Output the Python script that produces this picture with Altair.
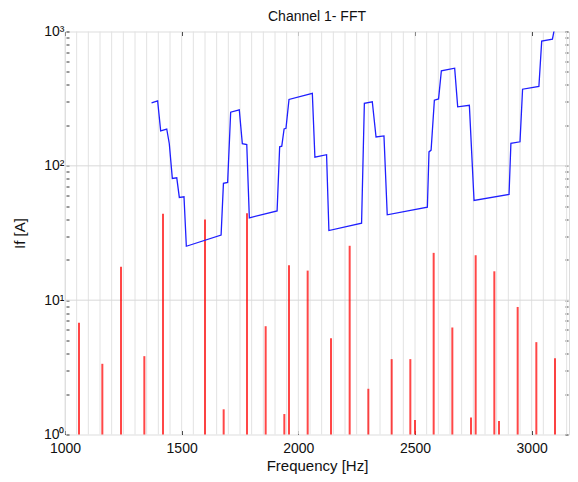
import altair as alt
import pandas as pd

# Red FFT harmonic stems (frequency in Hz, amplitude in A)
stem_freq = [1060, 1160, 1240, 1340, 1420, 1600, 1680, 1780, 1860, 1940, 1960, 2040,
             2140, 2220, 2300, 2400, 2480, 2500, 2580, 2660, 2740, 2760, 2840, 2860,
             2940, 3020, 3100]
stem_amp = [6.8, 3.36, 17.7, 3.83, 43.9, 39.9, 1.54, 44.4, 6.4, 1.42, 18.2, 16.6,
            5.2, 25.4, 2.19, 3.64, 3.64, 1.28, 22.5, 6.26, 1.34, 21.6, 16.4, 1.26,
            8.9, 4.87, 3.7]

# Blue limit curve
lim_freq = [1371, 1397, 1410, 1436, 1447, 1460, 1479, 1490, 1510, 1520, 1669, 1679,
            1697, 1710, 1747, 1760, 1779, 1790, 1909, 1920, 1929, 1939, 1947, 1960,
            2060, 2071, 2121, 2131, 2271, 2283, 2317, 2333, 2367, 2381, 2553, 2560,
            2569, 2583, 2601, 2613, 2650, 2670, 2683, 2733, 2753, 2903, 2911, 2950,
            2961, 3031, 3043, 3089, 3100]
lim_amp = [294, 305, 182, 188, 146, 80.6, 81.4, 58.2, 58.8, 25.2, 30.5, 74,
           75.2, 251, 261, 146, 144, 41, 46.2, 138.6, 140, 188, 190, 312,
           346, 116, 121, 33, 37.4, 292, 300, 164, 167, 43.2, 49.2, 127,
           131, 308, 315, 510, 525, 533, 275, 282, 55.3, 61.2, 147, 151,
           372, 390, 848, 878, 1100]

# Axis tick / grid values
x_ticks = [1000, 1500, 2000, 2500, 3000]
x_grid = list(range(1000, 3151, 50))
y_grid = [10, 100]
y_ticks = [1, 2, 3, 4, 5, 6, 7, 8, 9, 10, 20, 30, 40, 50, 60, 70, 80, 90,
           100, 200, 300, 400, 500, 600, 700, 800, 900, 1000]

FONT = "Liberation Sans"
xscale = alt.Scale(domain=[1000, 3160], nice=False, zero=False)
yscale = alt.Scale(type="log", domain=[1, 1000], nice=False)

label_expr = ("datum.value == 1 ? '10⁰' : datum.value == 10 ? '10¹' : "
              "datum.value == 100 ? '10²' : datum.value == 1000 ? '10³' : ''")

stems_df = pd.DataFrame({"f": stem_freq, "a": stem_amp})
lim_df = pd.DataFrame({"f": lim_freq, "a": lim_amp})
xg_df = pd.DataFrame({"f": x_grid})
yg_df = pd.DataFrame({"a": y_grid})

grid_v = alt.Chart(xg_df).mark_rule(color="#e2e2e2", strokeWidth=1).encode(
    x=alt.X("f:Q", scale=xscale, axis=None)
)
grid_h = alt.Chart(yg_df).mark_rule(color="#d8d8d8", strokeWidth=1).encode(
    y=alt.Y("a:Q", scale=yscale, axis=None)
)

stems = alt.Chart(stems_df).mark_rule(color="#ff0000", strokeWidth=2, opacity=0.72).encode(
    x=alt.X("f:Q", scale=xscale,
            axis=alt.Axis(orient="bottom", values=x_ticks, format="d",
                          title="Frequency [Hz]",
                          grid=False, domain=False, offset=-4, tickSize=4,
                          tickColor="#333333", labelFontSize=14, labelFont=FONT,
                          labelColor="#111111", labelPadding=7, labelFlush=False,
                          titleFont=FONT, titleFontSize=15, titleFontWeight="normal",
                          titleColor="#111111", titlePadding=3)),
    y=alt.Y("a:Q", scale=yscale,
            axis=alt.Axis(orient="left", values=y_ticks, labelExpr=label_expr,
                          title="If [A]", grid=False, domain=False, offset=-4,
                          tickSize=3, tickColor="#333333", labelFontSize=14,
                          labelFont=FONT, labelColor="#111111", labelPadding=2,
                          labelFlush=False, titleFont=FONT, titleFontSize=15,
                          titleFontWeight="normal", titleColor="#111111",
                          titlePadding=16)),
    y2=alt.datum(1),
)

line = alt.Chart(lim_df).mark_line(color="#1f1fff", strokeWidth=1.3, clip=True).encode(
    x=alt.X("f:Q", scale=xscale,
            axis=alt.Axis(orient="top", values=x_ticks, labels=False, title=None,
                          grid=False, domain=False, offset=-4, tickSize=4,
                          tickColor="#333333")),
    y=alt.Y("a:Q", scale=yscale,
            axis=alt.Axis(orient="right", values=y_ticks, labels=False, title=None,
                          grid=False, domain=False, offset=-4, tickSize=3,
                          tickColor="#333333")),
    order=alt.Order("f:Q"),
)

chart = alt.layer(grid_v, grid_h, stems, line).resolve_axis(
    x="independent", y="independent"
).properties(
    width=504,
    height=403,
    title=alt.TitleParams("Channel 1- FFT", font=FONT, fontSize=14,
                          fontWeight="normal", color="#111111", offset=1),
    autosize=alt.AutoSizeParams(type="none"),
    padding={"left": 57, "top": 23.5, "right": 1, "bottom": 40},
).configure_view(stroke="#444444", strokeWidth=1).configure(background="white")

chart.save("out.html", embed_options={"renderer": "svg", "actions": False})
